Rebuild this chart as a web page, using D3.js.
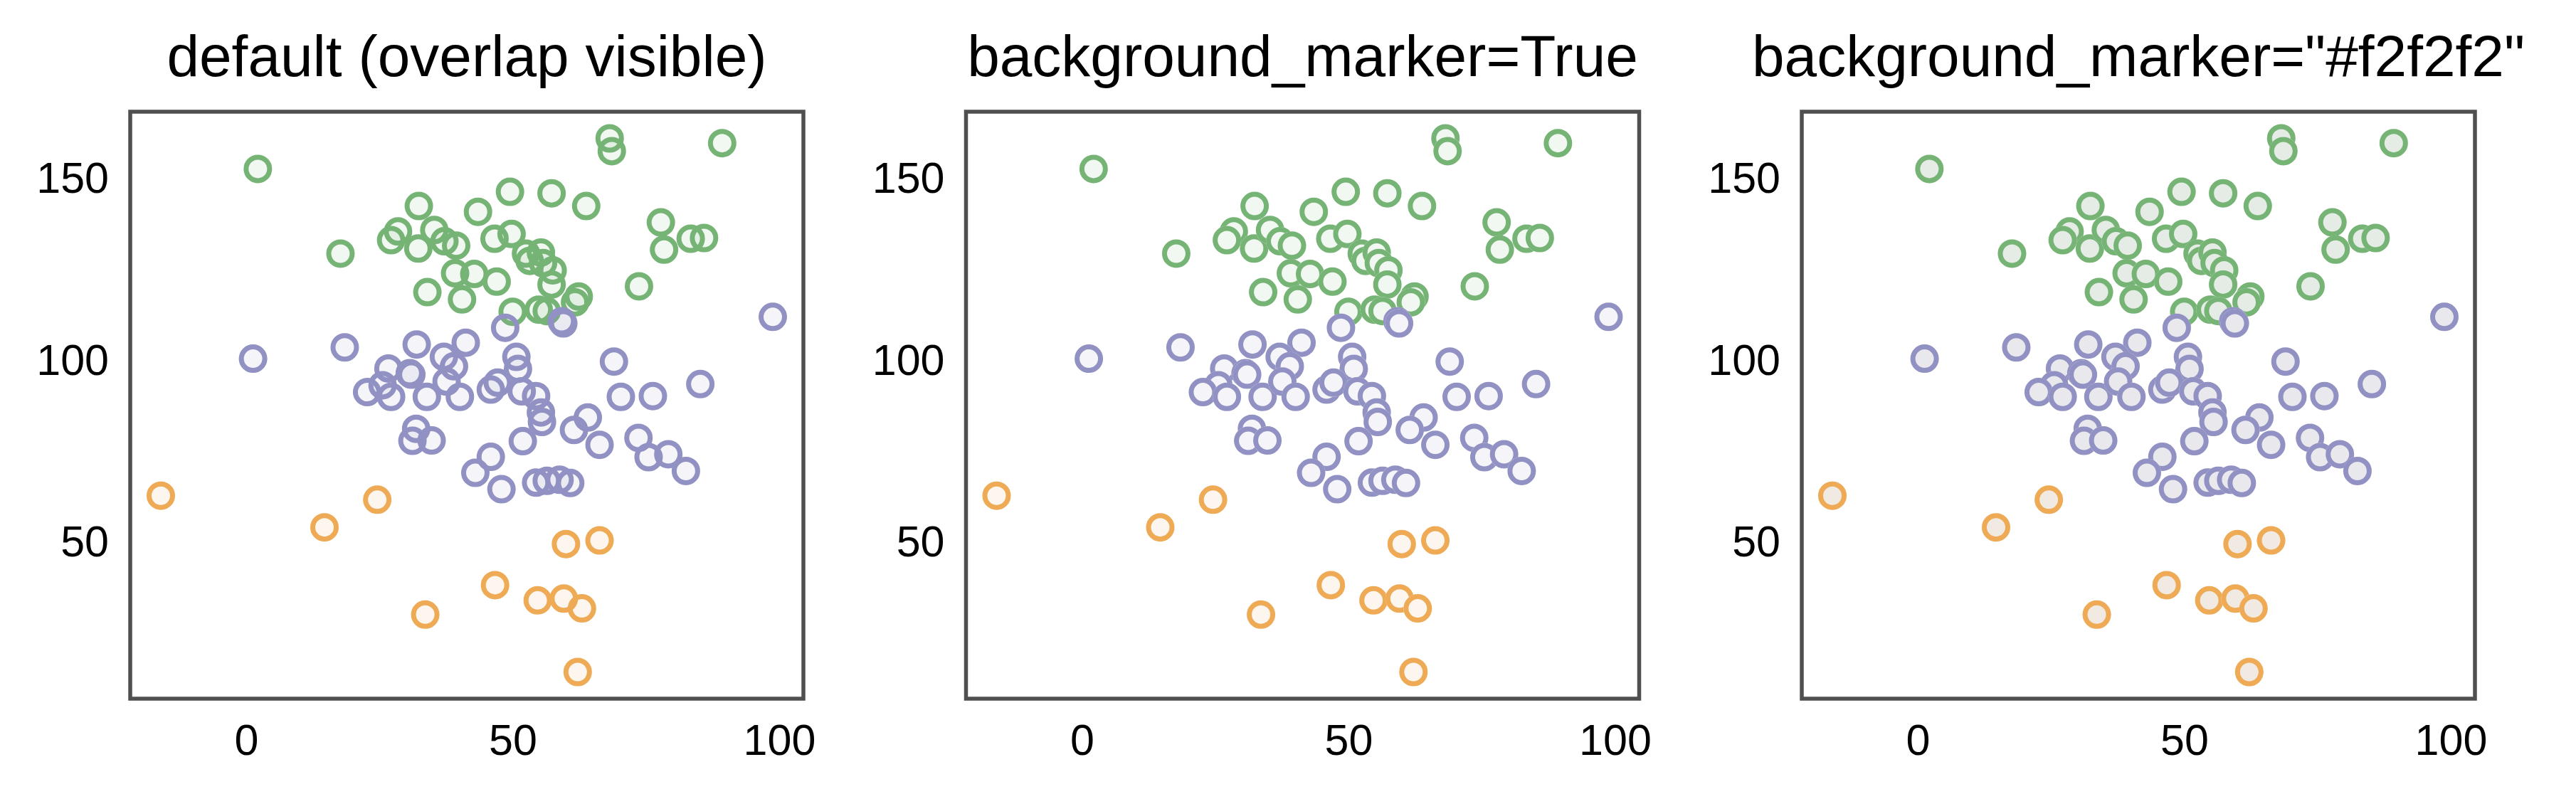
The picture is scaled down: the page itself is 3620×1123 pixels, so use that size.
<!DOCTYPE html>
<html><head><meta charset="utf-8">
<script src="https://cdn.jsdelivr.net/npm/d3@7"></script>
<style>
body{margin:0;background:#fff}
text{font-family:"Liberation Sans",Arial,Helvetica,sans-serif}
</style>
</head><body>
<svg id="chart" width="3620" height="1123"></svg>
<script>
// ---- data ----
const greenX=[2.2,17.7,32.4,28.5,27.2,32.3,35.3,37.2,39.4,39.2,34.0,40.5,43.5,68.2,68.6,89.3,49.5,57.3,63.8,46.6,49.8,52.5,53.2,55.3,55.7,57.5,57.3,42.8,47.0,50.0,54.9,56.4,62.4,61.7,77.8,78.4,83.4,85.9,73.7];
const greenY=[152.7,129.4,142.5,135.5,133.1,130.8,135.9,132.8,131.6,124.0,118.8,116.8,140.9,161.1,157.6,159.8,146.4,146.0,142.5,133.5,134.8,129.4,127.4,129.7,126.8,124.8,120.9,123.8,121.7,113.4,114.0,113.6,117.6,116.0,138.0,130.5,133.5,133.7,120.4];
const purpleX=[1.3,18.5,32.0,41.2,37.1,39.0,26.7,30.7,31.0,25.6,22.7,27.2,33.9,37.6,40.1,31.9,31.2,34.8,48.6,59.2,59.5,98.8,69.0,85.2,70.3,76.3,50.7,51.0,45.9,47.2,51.7,54.4,55.3,55.5,64.1,61.5,66.3,51.9,45.9,43.0,47.9,54.4,56.4,58.8,60.8,73.6,75.5,79.2,82.5];
const purpleY=[100.5,103.6,104.4,104.9,101.0,98.4,97.8,96.5,96.1,93.2,91.3,90.0,90.0,94.2,90.0,81.2,77.9,78.0,109.0,110.8,110.2,112.0,99.7,93.5,90.0,90.2,101.0,97.7,92.0,93.9,91.5,90.2,85.7,83.1,84.3,80.9,76.8,77.8,73.5,69.1,64.6,66.4,66.9,67.2,66.3,78.7,73.4,74.2,69.6];
const orangeX=[-16.0,14.7,24.6,33.6,60.0,66.3,46.7,54.7,59.6,63.0,62.2];
const orangeY=[62.8,54.1,61.7,30.1,49.5,50.5,38.2,34.0,34.5,31.8,14.3];

const groupNames=["green","purple","orange"];
const groupColors=["#76b476","#9191c3","#eeaa55"];
const panelTitles=["default (overlap visible)","background_marker=True","background_marker=\"#f2f2f2\""];
const panelBackgrounds=[null,"#ffffff","#f2f2f2"];
const xTicks=[0,50,100];
const yTicks=[50,100,150];

// ---- layout ----
const panelLeft=[183,1357.5,2532];
const plotTop=157, W=946, H=825;
const R=16.5, SW=7;

const groups=[
  {xs:greenX,ys:greenY},
  {xs:purpleX,ys:purpleY},
  {xs:orangeX,ys:orangeY}
].map((g,i)=>({name:groupNames[i],color:groupColors[i],pts:g.xs.map((x,j)=>({x,y:g.ys[j]}))}));

const allX=[...greenX,...purpleX,...orangeX], allY=[...greenY,...purpleY,...orangeY];
function padded(arr){const [a,b]=d3.extent(arr);const m=(b-a)*0.05;return [a-m,b+m];}
const xScale=d3.scaleLinear().domain(padded(allX)).range([0,W]);
const yScale=d3.scaleLinear().domain(padded(allY)).range([H,0]);

const svg=d3.select("#chart");
svg.append("rect").attr("width",3620).attr("height",1123).attr("fill","#fff");

panelTitles.forEach((title,pi)=>{
  const g=svg.append("g").attr("transform",`translate(${panelLeft[pi]},${plotTop})`);
  const bg=panelBackgrounds[pi];
  groups.forEach(grp=>{
    const c=d3.color(grp.color);
    const fill=`rgba(${c.r},${c.g},${c.b},0.1)`;
    const pg=g.append("g").attr("class","series-"+grp.name);
    grp.pts.forEach(p=>{
      if(bg){
        pg.append("circle").attr("cx",xScale(p.x)).attr("cy",yScale(p.y)).attr("r",R+SW/2).attr("fill",bg);
      }
      pg.append("circle").attr("cx",xScale(p.x)).attr("cy",yScale(p.y)).attr("r",R)
        .attr("fill",fill).attr("stroke",grp.color).attr("stroke-width",SW);
    });
  });
  const ax=g.append("g").attr("transform",`translate(0,${H})`)
    .call(d3.axisBottom(xScale).tickValues(xTicks).tickSize(0).tickPadding(36).tickFormat(d3.format("d")));
  ax.select(".domain").remove();
  ax.selectAll("text").attr("font-size",61).attr("fill","#000").style("font-family",'"Liberation Sans",Arial,sans-serif');
  const ay=g.append("g")
    .call(d3.axisLeft(yScale).tickValues(yTicks).tickSize(0).tickPadding(30).tickFormat(d3.format("d")));
  ay.select(".domain").remove();
  ay.selectAll("text").attr("font-size",61).attr("fill","#000").style("font-family",'"Liberation Sans",Arial,sans-serif');
  g.append("rect").attr("x",0).attr("y",0).attr("width",W).attr("height",H)
    .attr("fill","none").attr("stroke","#4f4f4f").attr("stroke-width",5.5);
  g.append("text").attr("x",W/2).attr("y",-50).attr("text-anchor","middle")
    .attr("font-size",82).attr("fill","#000").text(title);
});
</script>
</body></html>
